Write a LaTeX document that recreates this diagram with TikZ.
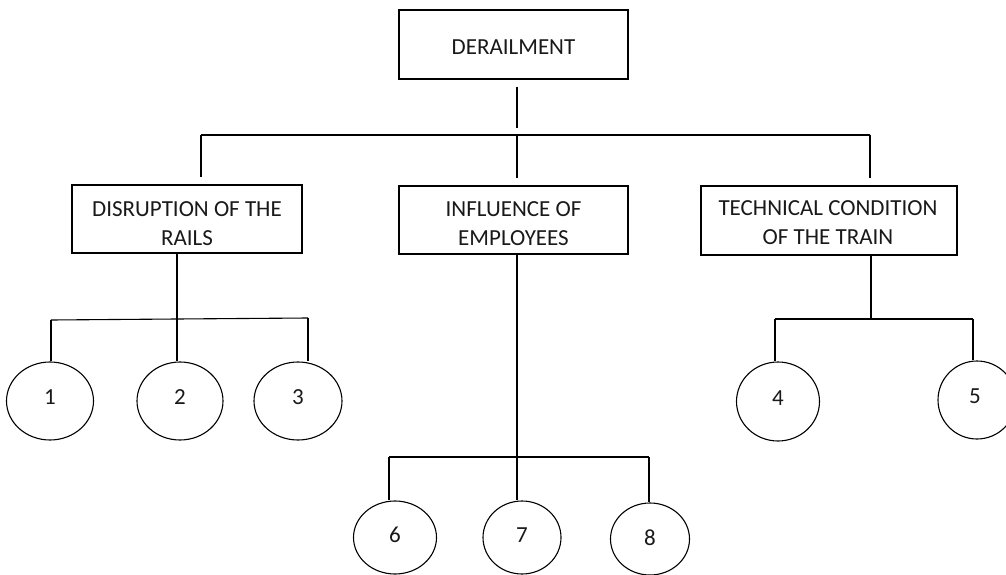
\documentclass[tikz,border=0pt]{standalone}
\usepackage{fontspec}
\setmainfont{Carlito}
\usetikzlibrary{shapes.geometric}
\begin{document}
\begin{tikzpicture}[x=1pt,y=-1pt,
  every node/.style={font=\fontsize{23}{28.5}\selectfont, text=black!90},
  every label/.style={inner sep=0pt, align=center},
  box/.style={draw, line width=1.1pt, inner sep=0pt},
  circ/.style={draw, ellipse, line width=1.1pt, inner sep=0pt},
  conn/.style={line width=1.1pt}]
\useasboundingbox (0,0) rectangle (1006,575);
\clip (0,0) rectangle (1006,575);
% boxes
\node[box, minimum width=229pt, minimum height=69pt, label={[yshift=-2.5pt]center:DERAILMENT}] (der) at (513.5,44.5) {};
\node[box, minimum width=230pt, minimum height=68pt, label={[yshift=-4.5pt]center:DISRUPTION OF THE\\RAILS}] (dis) at (187,219) {};
\node[box, minimum width=229pt, minimum height=68pt, label={[yshift=-3.5pt]center:INFLUENCE OF\\EMPLOYEES}] (inf) at (513.5,220) {};
\node[box, minimum width=256pt, minimum height=69pt, label={[yshift=-2pt, xshift=-1pt]center:TECHNICAL CONDITION\\OF THE TRAIN}] (tec) at (829,220.5) {};
% circles
\node[circ, minimum width=87pt, minimum height=78pt, label={[yshift=4pt]center:1}] (c1) at (50,401) {};
\node[circ, minimum width=86pt, minimum height=78pt, label={[yshift=4pt]center:2}] (c2) at (180,401) {};
\node[circ, minimum width=88pt, minimum height=78pt, label={[yshift=4pt]center:3}] (c3) at (298,401) {};
\node[circ, minimum width=83pt, minimum height=79pt, label={[yshift=3.5pt]center:4}] (c4) at (778,401.5) {};
\node[circ, minimum width=78pt, minimum height=78pt, label={[yshift=4pt, xshift=-2pt]center:5}] (c5) at (977,400) {};
\node[circ, minimum width=83pt, minimum height=73pt, label={[yshift=2.5pt]center:6}] (c6) at (395,537.5) {};
\node[circ, minimum width=78pt, minimum height=73pt, label={[yshift=2.5pt]center:7}] (c7) at (522,537.5) {};
\node[circ, minimum width=79pt, minimum height=72pt, label={[yshift=1pt]center:8}] (c8) at (650,539) {};
% junction coordinates
\coordinate (j0) at (517,135);
\coordinate (b1) at (201,135);
\coordinate (b3) at (870,135);
\coordinate (j1) at (177,319);
\coordinate (k1) at (51,320);
\coordinate (k3) at (308,318);
\coordinate (j2) at (517,457);
\coordinate (m1) at (389,457);
\coordinate (m3) at (649,457);
\coordinate (j3) at (871,319);
\coordinate (n1) at (775,319);
\coordinate (n3) at (973,319);
% top level
\draw[conn, shorten <=7pt, shorten >=7pt] (der.south -| j0) -- (j0);
\draw[conn] (b1) -- (b3);
\draw[conn, shorten >=7pt] (b1) -- (b1 |- dis.north);
\draw[conn, shorten >=7pt] (j0) -- (j0 |- inf.north);
\draw[conn, shorten >=7pt] (b3) -- (b3 |- tec.north);
% disruption
\draw[conn] (dis.south -| j1) -- (j1);
\draw[conn] (k1) -- (j1) -- (k3);
\draw[conn] (k1) -- (k1 |- c1.north);
\draw[conn] (j1) -- (j1 |- c2.north);
\draw[conn] (k3) -- (k3 |- c3.north);
% influence
\draw[conn] (inf.south -| j2) -- (j2);
\draw[conn] (m1) -- (m3);
\draw[conn] (m1) -- (m1 |- c6.north);
\draw[conn] (j2) -- (j2 |- c7.north);
\draw[conn] (m3) -- (m3 |- c8.north);
% technical
\draw[conn] (tec.south -| j3) -- (j3);
\draw[conn] (n1) -- (n3);
\draw[conn] (n1) -- (n1 |- c4.north);
\draw[conn] (n3) -- (n3 |- c5.north);
\end{tikzpicture}
\end{document}
